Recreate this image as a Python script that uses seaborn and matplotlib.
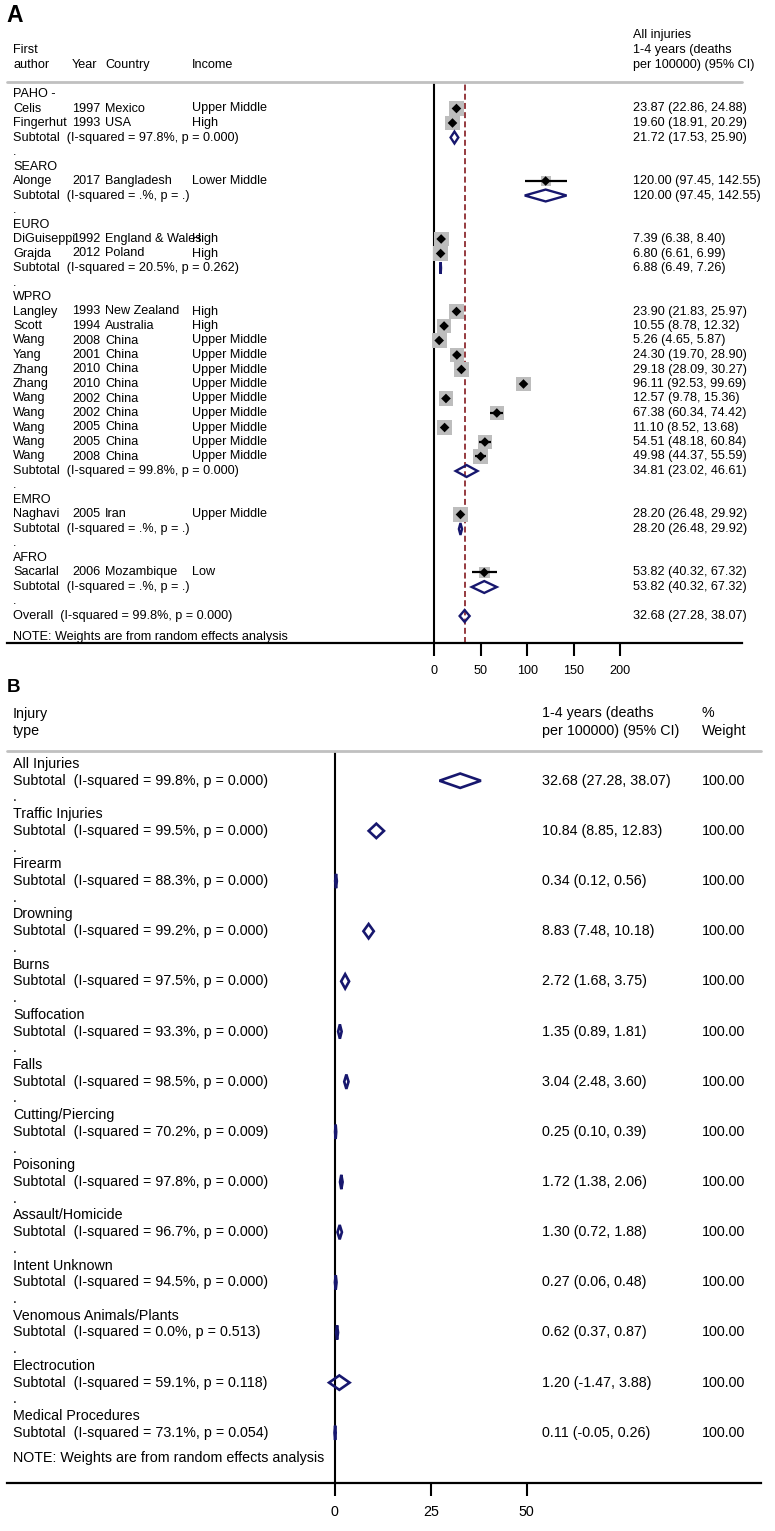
import matplotlib
matplotlib.use('Agg')
import matplotlib.pyplot as plt
from matplotlib.patches import Polygon
from matplotlib.transforms import blended_transform_factory
import numpy as np
import pandas as pd
import seaborn as sns

# ---- panel A: studies by WHO region ----
regions = ['PAHO -', 'SEARO', 'EURO', 'WPRO', 'EMRO', 'AFRO']
authors = ['Celis', 'Fingerhut', 'Alonge', 'DiGuiseppi', 'Grajda', 'Langley', 'Scott', 'Wang', 'Yang',
           'Zhang', 'Zhang', 'Wang', 'Wang', 'Wang', 'Wang', 'Wang', 'Naghavi', 'Sacarlal']
years = ['1997', '1993', '2017', '1992', '2012', '1993', '1994', '2008', '2001',
         '2010', '2010', '2002', '2002', '2005', '2005', '2008', '2005', '2006']
countries = ['Mexico', 'USA', 'Bangladesh', 'England & Wales', 'Poland', 'New Zealand', 'Australia', 'China', 'China',
             'China', 'China', 'China', 'China', 'China', 'China', 'China', 'Iran', 'Mozambique']
incomes = ['Upper Middle', 'High', 'Lower Middle', 'High', 'High', 'High', 'High', 'Upper Middle', 'Upper Middle',
           'Upper Middle', 'Upper Middle', 'Upper Middle', 'Upper Middle', 'Upper Middle', 'Upper Middle',
           'Upper Middle', 'Upper Middle', 'Low']
study_region = [0, 0, 1, 2, 2, 3, 3, 3, 3, 3, 3, 3, 3, 3, 3, 3, 4, 5]
study_est = [23.87, 19.60, 120.00, 7.39, 6.80, 23.90, 10.55, 5.26, 24.30,
             29.18, 96.11, 12.57, 67.38, 11.10, 54.51, 49.98, 28.20, 53.82]
study_lo = [22.86, 18.91, 97.45, 6.38, 6.61, 21.83, 8.78, 4.65, 19.70,
            28.09, 92.53, 9.78, 60.34, 8.52, 48.18, 44.37, 26.48, 40.32]
study_hi = [24.88, 20.29, 142.55, 8.40, 6.99, 25.97, 12.32, 5.87, 28.90,
            30.27, 99.69, 15.36, 74.42, 13.68, 60.84, 55.59, 29.92, 67.32]
# approximate study weights
study_weight = [6.0, 6.0, 2.3, 5.9, 5.9, 5.8, 5.8, 5.9, 5.7,
                5.9, 5.8, 5.8, 5.6, 5.8, 5.5, 5.6, 6.0, 2.8]
sub_i2 = ['97.8%', '.%', '20.5%', '99.8%', '.%', '.%']
sub_p = ['0.000', '.', '0.262', '0.000', '.', '.']
sub_est = [21.72, 120.00, 6.88, 34.81, 28.20, 53.82]
sub_lo = [17.53, 97.45, 6.49, 23.02, 26.48, 40.32]
sub_hi = [25.90, 142.55, 7.26, 46.61, 29.92, 67.32]
overall_est, overall_lo, overall_hi = 32.68, 27.28, 38.07
overall_i2, overall_p = '99.8%', '0.000'
ticks_a = [0, 50, 100, 150, 200]

# ---- panel B: injury types ----
injury_types = ['All Injuries', 'Traffic Injuries', 'Firearm', 'Drowning', 'Burns', 'Suffocation', 'Falls',
                'Cutting/Piercing', 'Poisoning', 'Assault/Homicide', 'Intent Unknown',
                'Venomous Animals/Plants', 'Electrocution', 'Medical Procedures']
inj_i2 = ['99.8%', '99.5%', '88.3%', '99.2%', '97.5%', '93.3%', '98.5%', '70.2%', '97.8%', '96.7%',
          '94.5%', '0.0%', '59.1%', '73.1%']
inj_p = ['0.000', '0.000', '0.000', '0.000', '0.000', '0.000', '0.000', '0.009', '0.000', '0.000',
         '0.000', '0.513', '0.118', '0.054']
inj_est = [32.68, 10.84, 0.34, 8.83, 2.72, 1.35, 3.04, 0.25, 1.72, 1.30, 0.27, 0.62, 1.20, 0.11]
inj_lo = [27.28, 8.85, 0.12, 7.48, 1.68, 0.89, 2.48, 0.10, 1.38, 0.72, 0.06, 0.37, -1.47, -0.05]
inj_hi = [38.07, 12.83, 0.56, 10.18, 3.75, 1.81, 3.60, 0.39, 2.06, 1.88, 0.48, 0.87, 3.88, 0.26]
inj_weight = ['100.00'] * 14
ticks_b = [0, 25, 50]

NAVY = '#17176e'
GRAY = '#bdbdbd'
MAROON = '#8e2b30'
W, H = 775, 1531

sns.set_theme(style='white')
plt.rcParams['font.family'] = ['Liberation Sans', 'DejaVu Sans']
plt.rcParams['text.color'] = 'black'
plt.rcParams['xtick.color'] = 'black'
plt.rcParams['xtick.labelcolor'] = 'black'

fig = plt.figure(figsize=(W / 100, H / 100), dpi=100)


def fx(px):
    return px / W


def fy(px):
    return 1 - px / H


def diamond(ax, est, lo, hi, y, h, lw):
    pts = [(lo, y), (est, y - h), (hi, y), (est, y + h)]
    ax.add_patch(Polygon(pts, closed=True, fill=False, edgecolor=NAVY, lw=lw,
                         joinstyle='miter', zorder=5))


def fmt_ci(e, l, h):
    return f'{e:.2f} ({l:.2f}, {h:.2f})'


# ================= Panel A =================
a_left, a_right, a_top, a_bot = 7, 742, 82, 643
a_x0, a_scale = 434.3, 0.928        # pixel of 0 and px per unit
a_row0, a_dy = 94, 14.5
axA = fig.add_axes([fx(a_left), fy(a_bot), (a_right - a_left) / W, (a_bot - a_top) / H])
axA.set_xlim((a_left - a_x0) / a_scale, (a_right - a_x0) / a_scale)
ylo, yhi = (a_bot - a_row0) / a_dy, (a_top - a_row0) / a_dy
axA.set_ylim(ylo, yhi)
trA = blended_transform_factory(fig.transFigure, axA.transData)
fsA = 9.1

r = 0
study_rows = []
sub_rows = []
for g, reg in enumerate(regions):
    axA.text(fx(13), r, reg, transform=trA, va='center', fontsize=fsA)
    r += 1
    for i in range(len(authors)):
        if study_region[i] != g:
            continue
        axA.text(fx(13), r, authors[i], transform=trA, va='center', fontsize=fsA)
        axA.text(fx(72), r, years[i], transform=trA, va='center', fontsize=fsA)
        axA.text(fx(105), r, countries[i], transform=trA, va='center', fontsize=fsA)
        axA.text(fx(192), r, incomes[i], transform=trA, va='center', fontsize=fsA)
        axA.text(fx(633), r, fmt_ci(study_est[i], study_lo[i], study_hi[i]), transform=trA,
                 va='center', fontsize=fsA)
        study_rows.append(r)
        r += 1
    axA.text(fx(13), r, f'Subtotal  (I-squared = {sub_i2[g]}, p = {sub_p[g]})', transform=trA,
             va='center', fontsize=fsA)
    axA.text(fx(633), r, fmt_ci(sub_est[g], sub_lo[g], sub_hi[g]), transform=trA, va='center', fontsize=fsA)
    sub_rows.append(r)
    r += 1
    axA.text(fx(13), r, '.', transform=trA, va='center', fontsize=fsA)
    r += 1
overall_row = r
axA.text(fx(13), r, f'Overall  (I-squared = {overall_i2}, p = {overall_p})', transform=trA,
         va='center', fontsize=fsA)
axA.text(fx(633), r, fmt_ci(overall_est, overall_lo, overall_hi), transform=trA, va='center', fontsize=fsA)
axA.text(fx(13), r + 1.45, 'NOTE: Weights are from random effects analysis', transform=trA,
         va='center', fontsize=fsA)

studies = pd.DataFrame({'est': study_est, 'lo': study_lo, 'hi': study_hi,
                        'w': study_weight, 'row': study_rows})
sns.scatterplot(data=studies, x='est', y='row', size='w', sizes=(55, 115), size_norm=(2.3, 6.0),
                marker='s', color=GRAY, edgecolor='none', linewidth=0, legend=False, ax=axA, zorder=2)
axA.hlines(studies['row'], studies['lo'], studies['hi'], color='black', lw=1.6, zorder=3)
sns.scatterplot(data=studies, x='est', y='row', marker='D', s=24, color='black',
                edgecolor='none', legend=False, ax=axA, zorder=4)
for g in range(len(regions)):
    diamond(axA, sub_est[g], sub_lo[g], sub_hi[g], sub_rows[g], 0.41, 1.7)
diamond(axA, overall_est, overall_lo, overall_hi, overall_row, 0.41, 1.7)

axA.axvline(0, color='black', lw=1.5, zorder=1)
axA.axvline(overall_est, color=MAROON, lw=1.3, ls=(0, (3.3, 1.8)), zorder=1)
axA.axhline(yhi, color='#c0c0c0', lw=2, clip_on=False)

# headers A
for txt, px, py in [('All injuries', 633, 35), ('1-4 years (deaths', 633, 50),
                    ('per 100000) (95% CI)', 633, 65), ('First', 13, 50), ('author', 13, 65),
                    ('Year', 72, 65), ('Country', 105, 65), ('Income', 192, 65)]:
    fig.text(fx(px), fy(py), txt, va='center', fontsize=fsA)
fig.text(fx(6), fy(16), 'A', va='center', fontsize=16.5, fontweight='bold')

# ================= Panel B =================
b_left, b_right, b_top, b_bot = 7, 761, 751, 1482.7
b_x0, b_scale = 334.7, 3.84
b_row0, b_dy = 764, 16.72
axB = fig.add_axes([fx(b_left), fy(b_bot), (b_right - b_left) / W, (b_bot - b_top) / H])
axB.set_xlim((b_left - b_x0) / b_scale, (b_right - b_x0) / b_scale)
ylo_b, yhi_b = (b_bot - b_row0) / b_dy, (b_top - b_row0) / b_dy
axB.set_ylim(ylo_b, yhi_b)
trB = blended_transform_factory(fig.transFigure, axB.transData)
fsB = 10.3

for k, name in enumerate(injury_types):
    r0 = 3 * k
    axB.text(fx(13), r0, name, transform=trB, va='center', fontsize=fsB)
    axB.text(fx(13), r0 + 1, f'Subtotal  (I-squared = {inj_i2[k]}, p = {inj_p[k]})', transform=trB,
             va='center', fontsize=fsB)
    axB.text(fx(542), r0 + 1, fmt_ci(inj_est[k], inj_lo[k], inj_hi[k]), transform=trB,
             va='center', fontsize=fsB)
    axB.text(fx(702), r0 + 1, inj_weight[k], transform=trB, va='center', fontsize=fsB)
    if k < len(injury_types) - 1:
        axB.text(fx(13), r0 + 2, '.', transform=trB, va='center', fontsize=fsB)
    diamond(axB, inj_est[k], inj_lo[k], inj_hi[k], r0 + 1, 0.43, 1.9)
axB.text(fx(13), 3 * len(injury_types) - 0.5, 'NOTE: Weights are from random effects analysis',
         transform=trB, va='center', fontsize=fsB)

axB.axvline(0, color='black', lw=1.5, zorder=1)
axB.axhline(yhi_b, color='#c0c0c0', lw=2, clip_on=False)

for txt, px, py in [('Injury', 13, 714), ('type', 13, 731), ('1-4 years (deaths', 542, 713),
                    ('per 100000) (95% CI)', 542, 731), ('%', 702, 713), ('Weight', 702, 731)]:
    fig.text(fx(px), fy(py), txt, va='center', fontsize=fsB)
fig.text(fx(7), fy(688), 'B', va='center', fontsize=13.5, fontweight='bold')

for ax, tk, fs in [(axA, ticks_a, fsA), (axB, ticks_b, fsB)]:
    sns.despine(ax=ax, left=True, top=True, right=True)
    ax.spines['bottom'].set_linewidth(1.6)
    ax.spines['bottom'].set_color('black')
    ax.set_xticks(tk)
    ax.set_xticklabels([str(t) for t in tk])
    ax.set_yticks([])
    ax.tick_params(axis='x', direction='out', length=9, width=1.5, pad=7, labelsize=fs,
                   bottom=True, color='black')
    ax.set_xlabel('')
    ax.set_ylabel('')
    ax.grid(False)
    ax.patch.set_alpha(0)

fig.savefig('out.png', dpi=100)
